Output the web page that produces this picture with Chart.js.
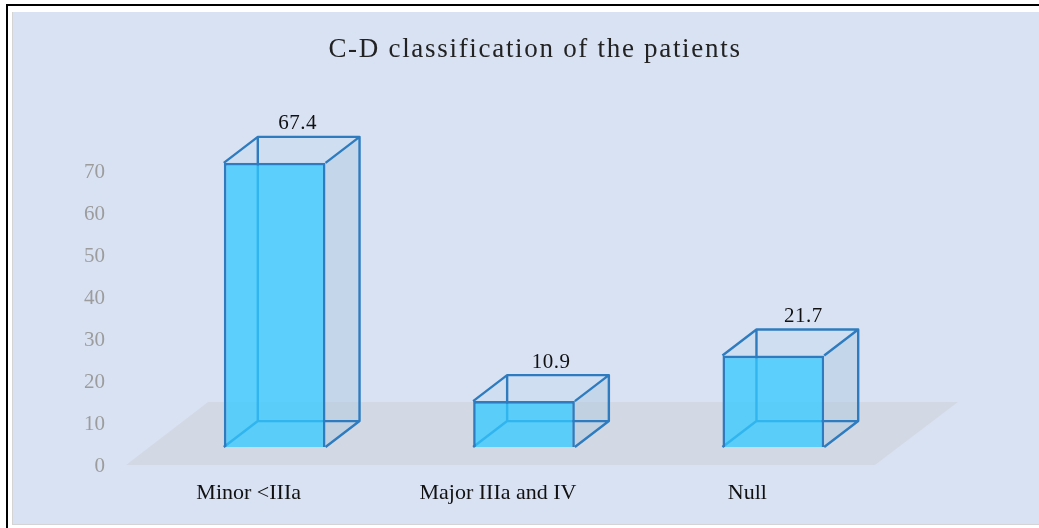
<!DOCTYPE html>
<html>
<head>
<meta charset="utf-8">
<script src="https://cdn.jsdelivr.net/npm/chart.js@4/dist/chart.umd.min.js"></script>
<style>
html,body{margin:0;padding:0;background:#fff;width:1039px;height:528px;overflow:hidden}
#frame{position:absolute;left:6px;top:4px;width:1040px;height:530px;border:2px solid #000;box-sizing:border-box}
#panel{position:absolute;left:12px;top:12px;width:1027px;height:513px;background:#D9E2F3;border-left:1px solid #d4d4d4;border-bottom:1px solid #d4d4d4;box-sizing:border-box}
canvas{position:absolute;left:0;top:0}
</style>
</head>
<body>
<div id="frame"></div>
<div id="panel"></div>
<canvas id="c" width="1039" height="528"></canvas>
<script>
const categories = ["Minor <IIIa", "Major IIIa and IV", "Null"];
const percentages = [67.4, 10.9, 21.7];
const yTickValues = [0, 10, 20, 30, 40, 50, 60, 70];
const chartTitle = "C-D classification of the patients";

const serif = "'Liberation Serif','Times New Roman',serif";
const depthX = 34, depthY = 26;
const baseLift = 4.25; // the boxes stand on the floor, slightly above the axis zero
const hiddenRange = 74.6;
const labelShift = [6, 10, 13];

const box3d = {
  id: 'box3d',
  afterLayout(chart) {
    const t = chart.titleBlock;
    if (t && !t._wrapped) {
      const orig = t.draw.bind(t);
      t.draw = function () {
        const ctx = chart.ctx;
        ctx.save();
        ctx.letterSpacing = '1.7px';
        ctx.translate(86, 3);
        orig();
        ctx.restore();
      };
      t._wrapped = true;
    }
  },
  beforeDatasetsDraw(chart) {
    const ctx = chart.ctx, a = chart.chartArea;
    // floor
    ctx.save();
    ctx.fillStyle = '#D3D9E4';
    ctx.beginPath();
    ctx.moveTo(a.left - 24, a.bottom);
    ctx.lineTo(a.left + 58, a.bottom - 63);
    ctx.lineTo(a.right + 60, a.bottom - 63);
    ctx.lineTo(a.right - 23, a.bottom);
    ctx.closePath();
    ctx.fill();
    // translucent faces and hidden edges of each box
    chart.getDatasetMeta(0).data.forEach(bar => {
      const l = bar.x - bar.width / 2, r = bar.x + bar.width / 2, t = bar.y, b = bar.base;
      ctx.fillStyle = 'rgba(170,200,225,0.45)';
      ctx.beginPath();
      ctx.moveTo(r, t); ctx.lineTo(r + depthX, t - depthY); ctx.lineTo(r + depthX, b - depthY); ctx.lineTo(r, b);
      ctx.closePath(); ctx.fill();
      ctx.fillStyle = 'rgba(200,220,238,0.6)';
      ctx.beginPath();
      ctx.moveTo(l, t); ctx.lineTo(l + depthX, t - depthY); ctx.lineTo(r + depthX, t - depthY); ctx.lineTo(r, t);
      ctx.closePath(); ctx.fill();
      ctx.strokeStyle = '#2E7CBF';
      ctx.lineWidth = 2.4;
      ctx.lineJoin = 'round';
      ctx.beginPath();
      ctx.moveTo(l, t); ctx.lineTo(l + depthX, t - depthY); ctx.lineTo(r + depthX, t - depthY); ctx.lineTo(r, t);
      ctx.moveTo(r + depthX, t - depthY); ctx.lineTo(r + depthX, b - depthY); ctx.lineTo(r, b);
      ctx.moveTo(l + depthX, t - depthY); ctx.lineTo(l + depthX, b - depthY); ctx.lineTo(r + depthX, b - depthY);
      ctx.moveTo(l + depthX, b - depthY); ctx.lineTo(l, b);
      ctx.stroke();
    });
    ctx.restore();
  },
  afterDatasetsDraw(chart) {
    const ctx = chart.ctx;
    ctx.save();
    ctx.fillStyle = '#111';
    ctx.font = "21px " + serif;
    ctx.textAlign = 'center';
    ctx.textBaseline = 'middle';
    ctx.letterSpacing = '0.5px';
    chart.getDatasetMeta(0).data.forEach((bar, i) => {
      ctx.fillText(percentages[i].toFixed(1), bar.x + depthX / 2 + labelShift[i], bar.y - depthY - 13);
    });
    ctx.restore();
  }
};

new Chart(document.getElementById('c'), {
  type: 'bar',
  data: {
    labels: categories,
    datasets: [{
      label: 'Patients (%)',
      data: percentages,
      yAxisID: 'y2',
      backgroundColor: 'rgba(49,200,255,0.75)',
      borderColor: '#2E7CBF',
      borderWidth: 2.6,
      barPercentage: 0.408,
      categoryPercentage: 1
    }]
  },
  options: {
    responsive: false,
    animation: false,
    layout: { padding: { left: 0, right: 141, top: 0, bottom: 0 } },
    plugins: {
      legend: { display: false },
      tooltip: { enabled: false },
      title: {
        display: true,
        text: chartTitle,
        color: '#222',
        font: { family: serif, size: 27, weight: 'normal' },
        padding: { top: 31, bottom: 87 }
      }
    },
    scales: {
      x: {
        grid: { display: false },
        border: { display: false },
        ticks: {
          color: '#111',
          font: { family: serif, size: 22 },
          padding: 7,
          labelOffset: -26,
          maxRotation: 0,
          autoSkip: false
        },
        afterFit(s) { s.height = 63; }
      },
      y: {
        position: 'left',
        min: 0,
        max: 75,
        grid: { display: false },
        border: { display: false },
        afterBuildTicks(s) { s.ticks = yTickValues.map(v => ({ value: v })); },
        ticks: {
          color: '#9C9C9C',
          font: { family: serif, size: 21 },
          padding: 37,
          labelOffset: 1,
          autoSkip: false
        },
        afterFit(s) { s.width = 150; }
      },
      y2: {
        display: false,
        min: -baseLift,
        max: hiddenRange - baseLift
      }
    }
  },
  plugins: [box3d]
});
</script>
</body>
</html>
